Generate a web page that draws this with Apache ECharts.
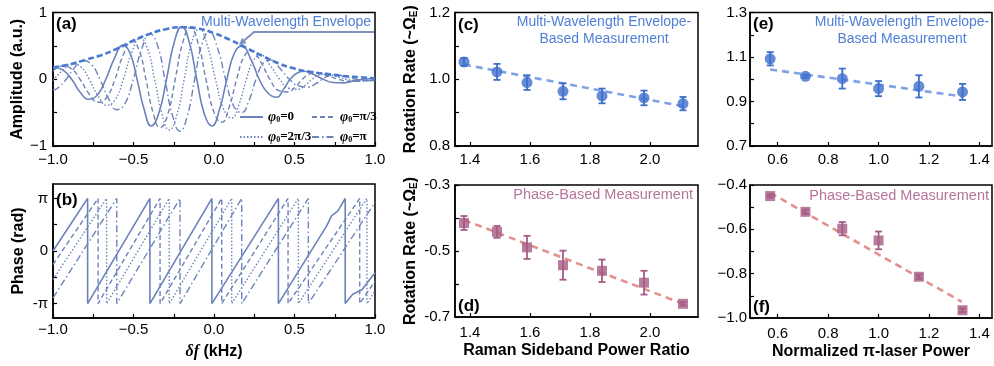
<!DOCTYPE html>
<html>
<head>
<meta charset="utf-8">
<script src="https://cdn.jsdelivr.net/npm/echarts@6/dist/echarts.min.js"></script>
<style>
  html, body { margin: 0; background: #fff; }
  #chart { width: 994px; height: 366px; }
</style>
</head>
<body>
<div id="chart"></div>
<script>
const PI = Math.PI;

// ---- (a) amplitude vs detuning, [δf (kHz), amplitude]
const envelope = [[-1.0,.18],[-0.9,.22],[-0.8,.29],[-0.7,.36],[-0.6,.46],[-0.5,.58],[-0.4,.68],[-0.3,.75],[-0.2,.78],[-0.1,.76],[0.0,.69],[0.1,.59],[0.2,.47],[0.3,.35],[0.4,.24],[0.5,.16],[0.6,.11],[0.7,.08],[0.8,.05],[0.9,.03],[1.0,.015]];
const amp0 = [[-1,.18],[-0.94,.14],[-0.884,0],[-0.83,-.2],[-0.78,-.30],
  [-0.726,-.24],[-0.672,0],[-0.619,.31],[-0.565,.51],[-0.521,.39],[-0.478,0],[-0.434,-.45],[-0.39,-.70],
  [-0.343,-.51],[-0.295,0],[-0.248,.545],[-0.2,.79],[-0.153,.549],[-0.107,0],[-0.06,-.52],[-0.013,-.70],
  [0.033,-.465],[0.08,0],[0.126,.39],[0.172,.50],[0.227,.31],[0.281,0],[0.336,-.21],[0.39,-.27],
  [0.431,-.152],[0.473,0],[0.514,.09],[0.555,.12],[0.616,.074],[0.678,0],[0.739,-.048],[0.80,-.055],
  [0.86,-.03],[0.93,0],[1.0,.015]];
const amp1 = [[-1,.12],[-0.943,.20],[-0.887,.16],[-0.832,0],[-0.776,-.22],[-0.72,-.345],
  [-0.668,-.276],[-0.615,0],[-0.563,.37],[-0.51,.57],[-0.466,.44],[-0.423,0],[-0.379,-.495],[-0.335,-.725],
  [-0.288,-.534],[-0.241,0],[-0.194,.55],[-0.147,.775],[-0.098,.536],[-0.05,0],[-0.001,-.488],[0.048,-.645],
  [0.094,-.42],[0.141,0],[0.187,.343],[0.233,.43],[0.29,.26],[0.347,0],[0.403,-.17],[0.46,-.19],
  [0.505,-.115],[0.549,0],[0.594,.08],[0.638,.098],[0.705,.055],[0.772,0],[0.838,-.03],[0.905,-.03],
  [0.96,-.015],[1.0,-.005]];
const amp2 = [[-1,-.02],[-0.937,.14],[-0.883,.23],[-0.829,.19],[-0.775,0],[-0.721,-.243],[-0.667,-.39],
  [-0.615,-.31],[-0.563,0],[-0.511,.40],[-0.459,.615],[-0.414,.465],[-0.369,0],[-0.323,-.52],[-0.278,-.76],
  [-0.232,-.547],[-0.185,0],[-0.139,.546],[-0.092,.755],[-0.042,.51],[0.009,0],[0.06,-.445],[0.11,-.58],
  [0.156,-.37],[0.201,0],[0.247,.29],[0.292,.36],[0.35,.205],[0.408,0],[0.466,-.135],[0.524,-.15],
  [0.567,-.09],[0.609,0],[0.652,.066],[0.694,.08],[0.758,.044],[0.822,0],[0.886,-.023],[0.95,-.025],
  [1.0,-.017]];
const amp3 = [[-1,-.16],[-0.97,-.131],[-0.918,0],[-0.866,.174],[-0.813,.28],[-0.761,.221],[-0.709,0],[-0.656,-.286],[-0.604,-.456],
  [-0.553,-.364],[-0.501,0],[-0.45,.445],[-0.398,.68],[-0.351,.51],[-0.305,0],[-0.258,-.542],[-0.211,-.778],
  [-0.166,-.549],[-0.12,0],[-0.075,.527],[-0.029,.71],[0.021,.474],[0.072,0],[0.122,-.40],[0.172,-.50],
  [0.217,-.32],[0.261,0],[0.306,.244],[0.35,.29],[0.409,.164],[0.468,0],[0.527,-.10],[0.586,-.117],
  [0.63,-.07],[0.673,0],[0.717,.054],[0.76,.065],[0.82,.032],[0.88,0],[0.94,-.018],[1.0,-.02]];

// ---- (b) wrapped phase, [δf (kHz), phase (rad)]
const phase0 = [[-1,0],[-0.785,PI],[-0.785,-PI],[-0.398,PI],[-0.398,-PI],[-0.013,PI],[-0.013,-PI],[0.40,PI],[0.40,-PI],[0.70,1.5],[0.73,2.1],[0.77,2.4],[0.815,PI],[0.815,-PI],[0.86,-2.6],[0.92,-2.3],[1.0,-1.3]];
const phase1 = [[-1,-0.8],[-0.72,PI],[-0.72,-PI],[-0.335,PI],[-0.335,-PI],[0.048,PI],[0.048,-PI],[0.46,PI],[0.46,-PI],[0.905,PI],[0.905,-PI],[1.0,-1.8]];
const phase2 = [[-1,-1.7],[-0.667,PI],[-0.667,-PI],[-0.278,PI],[-0.278,-PI],[0.11,PI],[0.11,-PI],[0.524,PI],[0.524,-PI],[0.95,PI],[0.95,-PI],[1.0,-2.4]];
const phase3 = [[-1,-2.8],[-0.604,PI],[-0.604,-PI],[-0.211,PI],[-0.211,-PI],[0.172,PI],[0.172,-PI],[0.586,PI],[0.586,-PI],[1.0,2.9]];

// ---- (c)/(d) vs Raman sideband power ratio
const ramanRatio = [1.38, 1.49, 1.59, 1.71, 1.84, 1.98, 2.11];
const envRateC = [1.052, 1.022, 0.990, 0.964, 0.950, 0.944, 0.927];
const envErrC = [0.012, 0.024, 0.022, 0.024, 0.022, 0.022, 0.02];
const envFitC = [[1.38, 1.044], [2.11, 0.919]];
const phaseRateD = [-0.415, -0.442, -0.489, -0.543, -0.560, -0.596, -0.660];
const phaseErrD = [0.021, 0.018, 0.035, 0.044, 0.034, 0.036, 0.005];
const phaseFitD = [[1.38, -0.406], [2.11, -0.66]];

// ---- (e)/(f) vs normalized pi-laser power
const laserPower = [0.57, 0.71, 0.856, 1.0, 1.16, 1.333];
const envRateE = [1.092, 1.013, 1.003, 0.958, 0.968, 0.943];
const envErrE = [0.03, 0.006, 0.045, 0.034, 0.05, 0.036];
const envFitE = [[0.57, 1.044], [1.33, 0.923]];
const phaseRateF = [-0.45, -0.521, -0.597, -0.65, -0.814, -0.965];
const phaseErrF = [0.006, 0.01, 0.03, 0.04, 0.01, 0.008];
const phaseFitF = [[0.57, -0.435], [1.33, -0.927]];

// ---- tick labels / tick marks
const freqLabels = [-1, -0.5, 0, 0.5, 1];
const freqTicks = [-1, -0.75, -0.5, -0.25, 0, 0.25, 0.5, 0.75, 1];
const ampLabels = [-1, 0, 1];
const ampTicks = [-1, -0.5, 0, 0.5, 1];
const phaseLabels = [-PI, 0, PI];
const phaseTicks = [-PI, -PI / 2, 0, PI / 2, PI];
const ramanLabels = [1.4, 1.6, 1.8, 2.0];
const powerLabels = [0.6, 0.8, 1.0, 1.2, 1.4];
const rateLabelsC = [0.8, 1.0, 1.2];
const rateTicksC = [0.8, 0.9, 1.0, 1.1, 1.2];
const rateLabelsD = [-0.7, -0.5, -0.3];
const rateTicksD = [-0.7, -0.6, -0.5, -0.4, -0.3];
const rateLabelsE = [0.7, 0.9, 1.1, 1.3];
const rateTicksE = [0.7, 0.8, 0.9, 1.0, 1.1, 1.2, 1.3];
const rateLabelsF = [-1.0, -0.8, -0.6, -0.4];
const rateTicksF = [-1.0, -0.9, -0.8, -0.7, -0.6, -0.5, -0.4];

const SANS = '"Liberation Sans", Arial, sans-serif';
const SERIF = '"Liberation Serif", "Times New Roman", serif';
const CURVE = '#6b83ba';
const BLUE = '#3f6fcd';
const BLUE_FIT = '#80a2e2';
const MAUVE = '#a65c85';
const PINK_FIT = '#e3918f';

const minus1 = v => (v < 0 ? '\u2212' : '') + Math.abs(v).toFixed(1);
const hyphen1 = v => (v < 0 ? '-' : '') + Math.abs(v).toFixed(1);

function axis(gridIndex, min, max, labels, ticks, fmt, margin, extra) {
  return Object.assign({
    type: 'value', gridIndex, min, max,
    splitLine: { show: false },
    axisLine: { show: true, onZero: false, lineStyle: { color: '#000', width: 1.5 } },
    axisTick: { show: true, inside: true, length: 4, customValues: ticks, lineStyle: { color: '#000', width: 1.2 } },
    axisLabel: { customValues: labels, formatter: fmt, color: '#000', fontSize: 15, fontFamily: SANS, margin: margin },
  }, extra || {});
}

const nameStyle = { color: '#000', fontSize: 16, fontWeight: 'bold', fontFamily: SANS };

const xAxes = [
  axis(0, -1, 1, freqLabels, freqTicks, minus1, 6),
  axis(1, -1, 1, freqLabels, freqTicks, minus1, 4, {
    name: '{i|δf} (kHz)', nameLocation: 'middle', nameGap: 26,
    nameTextStyle: Object.assign({}, nameStyle, { rich: { i: { fontStyle: 'italic', fontWeight: 'bold', fontSize: 16, fontFamily: SERIF } } })
  }),
  axis(2, 1.35, 2.16, ramanLabels, ramanLabels, v => v.toFixed(1), 6),
  axis(3, 1.35, 2.16, ramanLabels, ramanLabels, v => v.toFixed(1), 8, {
    name: 'Raman Sideband Power Ratio', nameLocation: 'middle', nameGap: 26, nameTextStyle: nameStyle
  }),
  axis(4, 0.49, 1.45, powerLabels, powerLabels, v => v.toFixed(1), 6),
  axis(5, 0.49, 1.45, powerLabels, powerLabels, v => v.toFixed(1), 8, {
    name: 'Normalized π-laser Power', nameLocation: 'middle', nameGap: 26, nameTextStyle: nameStyle
  }),
];

const rateName = {
  name: '{b|Rotation Rate (~Ω}{s|E}{b|)}', nameLocation: 'middle', nameGap: 36,
  nameTextStyle: Object.assign({}, nameStyle, {
    rich: {
      b: { fontSize: 16, fontWeight: 'bold', fontFamily: SANS, color: '#000' },
      s: { fontSize: 10, fontWeight: 'bold', fontFamily: SANS, color: '#000', verticalAlign: 'bottom', lineHeight: 12 }
    }
  })
};

const yAxes = [
  axis(0, -1, 1, ampLabels, ampTicks, v => (v < 0 ? '\u2212' + (-v) : String(v)), 6, {
    name: 'Amplitude (a.u.)', nameLocation: 'middle', nameGap: 26, nameTextStyle: nameStyle
  }),
  axis(1, -4, 4, phaseLabels, phaseTicks, v => (v > 0 ? 'π' : v < 0 ? '-π' : '0'), 5, {
    name: 'Phase (rad)', nameLocation: 'middle', nameGap: 26, nameTextStyle: nameStyle
  }),
  axis(2, 0.8, 1.2, rateLabelsC, rateTicksC, v => v.toFixed(1), 5, rateName),
  axis(3, -0.7, -0.3, rateLabelsD, rateTicksD, hyphen1, 5, rateName),
  axis(4, 0.7, 1.3, rateLabelsE, rateTicksE, v => v.toFixed(1), 3),
  axis(5, -1.0, -0.4, rateLabelsF, rateTicksF, minus1, 3),
];

function grid(left, top, width, height) {
  return { left, top, width, height, show: true, borderColor: '#000', borderWidth: 1.5, outerBoundsMode: 'none' };
}

function curve(idx, name, data, type, width, color, smooth, z) {
  return {
    type: 'line', name, xAxisIndex: idx, yAxisIndex: idx, data,
    showSymbol: false, symbol: 'none', smooth: smooth, z: z || 2,
    lineStyle: { color: color, width: width, type: type },
    itemStyle: { color: color }
  };
}

function errorBars(idx, xs, ys, errs, color) {
  return {
    type: 'custom', xAxisIndex: idx, yAxisIndex: idx, z: 3, silent: true,
    data: xs.map((x, i) => [x, ys[i] - errs[i], ys[i] + errs[i]]),
    renderItem: (params, api) => {
      const lo = api.coord([api.value(0), api.value(1)]);
      const hi = api.coord([api.value(0), api.value(2)]);
      const w = 3.5;
      const st = { stroke: color, lineWidth: 1.8 };
      return {
        type: 'group', children: [
          { type: 'line', shape: { x1: lo[0], y1: lo[1], x2: hi[0], y2: hi[1] }, style: st },
          { type: 'line', shape: { x1: lo[0] - w, y1: lo[1], x2: lo[0] + w, y2: lo[1] }, style: st },
          { type: 'line', shape: { x1: hi[0] - w, y1: hi[1], x2: hi[0] + w, y2: hi[1] }, style: st }
        ]
      };
    }
  };
}

function points(idx, xs, ys, symbol, size, color) {
  return {
    type: 'scatter', xAxisIndex: idx, yAxisIndex: idx, z: 4,
    symbol, symbolSize: size, itemStyle: { color: color },
    data: xs.map((x, i) => [x, ys[i]])
  };
}

const DASH = [5, 3];
const DOT = [1.5, 2];
const DASHDOT = [7, 3, 1.5, 3];
const names = ['φ0=0', 'φ0=π/3', 'φ0=2π/3', 'φ0=π'];

const legendText = {
  color: '#000', fontSize: 13, fontFamily: SERIF, fontWeight: 'bold',
  rich: {
    g: { fontSize: 14, fontStyle: 'italic', fontWeight: 'bold', fontFamily: SERIF, color: '#000' },
    s: { fontSize: 8, fontWeight: 'bold', fontFamily: SERIF, color: '#000', verticalAlign: 'bottom', lineHeight: 10 },
    t: { fontSize: 13, fontWeight: 'bold', fontFamily: SERIF, color: '#000' }
  }
};
const legendFmt = name => '{g|φ}{s|0}{t|=' + name.split('=')[1] + '}';

function legendColumn(items, left) {
  return {
    data: items, left: left, top: 110, orient: 'vertical', selectedMode: false,
    itemWidth: 23, itemHeight: 10, itemGap: 6, padding: 0,
    itemStyle: { opacity: 0 },
    textStyle: legendText, formatter: legendFmt
  };
}

const chart = echarts.init(document.getElementById('chart'));

chart.setOption({
  animation: false,
  backgroundColor: '#fff',
  grid: [
    grid(53, 12.5, 322, 133.5),
    grid(53, 184, 322, 134),
    grid(455, 12.5, 243, 133.5),
    grid(455, 185, 243, 132),
    grid(750, 12.5, 242, 133.5),
    grid(750, 185, 242, 133),
  ],
  xAxis: xAxes,
  yAxis: yAxes,
  legend: [
    legendColumn([names[0], names[2]], 239),
    legendColumn([names[1], names[3]], 311)
  ],
  series: [
    curve(0, names[0], amp0, 'solid', 1.6, CURVE, 0.5),
    curve(0, names[1], amp1, DASH, 1.4, CURVE, 0.5),
    curve(0, names[2], amp2, DOT, 1.4, CURVE, 0.5),
    curve(0, names[3], amp3, DASHDOT, 1.4, CURVE, 0.5),
    curve(0, 'Multi-Wavelength Envelope', envelope, [6, 3], 2.6, '#4a78d2', 0.5, 5),

    curve(1, names[0], phase0, 'solid', 1.6, CURVE, false),
    curve(1, names[1], phase1, DASH, 1.4, CURVE, false),
    curve(1, names[2], phase2, DOT, 1.4, CURVE, false),
    curve(1, names[3], phase3, DASHDOT, 1.4, CURVE, false),

    curve(2, 'fit c', envFitC, [7, 5], 2.6, BLUE_FIT, false, 1),
    errorBars(2, ramanRatio, envRateC, envErrC, BLUE),
    points(2, ramanRatio, envRateC, 'circle', 11, BLUE),

    curve(3, 'fit d', phaseFitD, [7, 5], 2.6, PINK_FIT, false, 1),
    errorBars(3, ramanRatio, phaseRateD, phaseErrD, MAUVE),
    points(3, ramanRatio, phaseRateD, 'rect', 10, MAUVE),

    curve(4, 'fit e', envFitE, [7, 5], 2.6, BLUE_FIT, false, 1),
    errorBars(4, laserPower, envRateE, envErrE, BLUE),
    points(4, laserPower, envRateE, 'circle', 11, BLUE),

    curve(5, 'fit f', phaseFitF, [7, 5], 2.6, PINK_FIT, false, 1),
    errorBars(5, laserPower, phaseRateF, phaseErrF, MAUVE),
    points(5, laserPower, phaseRateF, 'rect', 10, MAUVE),
  ],
  graphic: [
    // panel letters
    { type: 'text', style: { text: '(a)', x: 56, y: 24, verticalAlign: 'middle', font: 'bold 17px ' + SANS, fill: '#000' } },
    { type: 'text', style: { text: '(b)', x: 56, y: 200, verticalAlign: 'middle', font: 'bold 17px ' + SANS, fill: '#000' } },
    { type: 'text', style: { text: '(c)', x: 458, y: 25, verticalAlign: 'middle', font: 'bold 17px ' + SANS, fill: '#000' } },
    { type: 'text', style: { text: '(d)', x: 458, y: 306, verticalAlign: 'middle', font: 'bold 17px ' + SANS, fill: '#000' } },
    { type: 'text', style: { text: '(e)', x: 753, y: 24, verticalAlign: 'middle', font: 'bold 17px ' + SANS, fill: '#000' } },
    { type: 'text', style: { text: '(f)', x: 753, y: 307, verticalAlign: 'middle', font: 'bold 17px ' + SANS, fill: '#000' } },

    // envelope annotation in (a)
    { type: 'text', z: 10, style: { text: 'Multi-Wavelength Envelope', x: 371, y: 22, align: 'right', verticalAlign: 'middle', font: '14px ' + SANS, fill: '#4f7fd6' } },
    { type: 'polyline', z: 10, shape: { points: [[374, 32], [254, 32], [243, 41.5]] }, style: { stroke: '#8193bd', lineWidth: 2, fill: null } },
    { type: 'polygon', z: 10, shape: { points: [[239, 45], [246.6, 43.0], [242.0, 37.8]] }, style: { fill: '#8193bd' } },

    // measurement captions
    { type: 'text', style: { text: 'Multi-Wavelength Envelope-\nBased Measurement', x: 604, y: 31, align: 'center', verticalAlign: 'middle', lineHeight: 17, font: '14px ' + SANS, fill: '#4f7fd6' } },
    { type: 'text', style: { text: 'Multi-Wavelength Envelope-\nBased Measurement', x: 902, y: 31, align: 'center', verticalAlign: 'middle', lineHeight: 17, font: '14px ' + SANS, fill: '#4f7fd6' } },
    { type: 'text', style: { text: 'Phase-Based Measurement', x: 693, y: 195, align: 'right', verticalAlign: 'middle', font: '14.5px ' + SANS, fill: '#b5749a' } },
    { type: 'text', style: { text: 'Phase-Based Measurement', x: 989, y: 196, align: 'right', verticalAlign: 'middle', font: '14.5px ' + SANS, fill: '#b5749a' } },
  ]
});
</script>
</body>
</html>
